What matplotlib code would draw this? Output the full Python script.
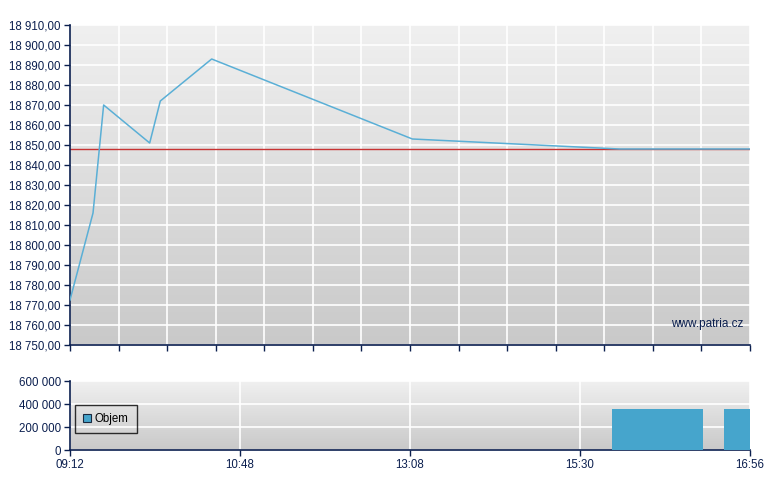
import numpy as np
import matplotlib
matplotlib.use("Agg")
import matplotlib.pyplot as plt
from matplotlib.colors import LinearSegmentedColormap
from matplotlib.patches import Patch

plt.rcParams['font.family'] = ['Liberation Sans', 'DejaVu Sans']

# ---- data ----
tick_times = ["09:12", "10:48", "13:08", "15:30", "16:56"]
price_times = ["09:12", "09:25", "09:31", "09:57", "10:03", "10:32", "13:10", "15:50", "16:56"]
price_values = [18772.5, 18816, 18870, 18851, 18872, 18893, 18853, 18848, 18848]
reference_price = 18848
volume_start = ["15:46", "16:43"]
volume_end = ["16:32", "16:56"]
volume_values = [360000, 360000]
price_ticks = list(range(18750, 18911, 10))
volume_ticks = [0, 200000, 400000, 600000]

def to_min(t):
    h, m = t.split(":")
    return int(h) * 60 + int(m)

tick_min = np.array([to_min(t) for t in tick_times])
tick_pos = np.linspace(0, 1, len(tick_times))

def pos(ts):
    return np.interp([to_min(t) for t in ts], tick_min, tick_pos)

navy = "#0b1f4f"
fig = plt.figure(figsize=(7.8, 4.9), dpi=100)
ax1 = fig.add_axes([70/780, 1-345/490, 680/780, 320/490])
ax2 = fig.add_axes([70/780, 1-450/490, 680/780, 69/490])

cmap = LinearSegmentedColormap.from_list("g", ["#c9c9c9", "#f0f0f0"])
grad = np.linspace(0, 1, 256).reshape(-1, 1)
for ax in (ax1, ax2):
    ax.imshow(grad, extent=[0, 1, 0, 1], transform=ax.transAxes, aspect='auto',
              cmap=cmap, origin='lower', zorder=0)
    ax.set_axisbelow(True)
    for s in ("top", "right"):
        ax.spines[s].set_visible(False)
    for s in ("left", "bottom"):
        ax.spines[s].set_color(navy)
        ax.spines[s].set_linewidth(1.2)
    ax.tick_params(colors=navy, labelcolor=navy, labelsize=8.3, width=1, length=4, pad=2.5)
    ax.set_xlim(0, 1)

# price panel
ax1.axhline(reference_price, color="#c83232", lw=1.0, zorder=2)
ax1.plot(pos(price_times), price_values, color="#5aafd6", lw=1.1, zorder=3)
ax1.set_ylim(18750, 18910)
ax1.set_yticks(price_ticks)
ax1.set_yticklabels([f"{v // 1000} {v % 1000:03d},00" for v in price_ticks])
ax1.set_xticks(np.linspace(0, 1, 15))
ax1.set_xticklabels([])
ax1.grid(True, color="white", lw=1.2)
ax1.text(0.99, 0.065, "www.patria.cz", transform=ax1.transAxes, ha="right", va="center",
         color=navy, fontsize=8.5)

# volume panel
vs = pos(volume_start)
ve = pos(volume_end)
ax2.bar(vs, volume_values, width=ve - vs, align="edge", color="#46a5cc", zorder=3)
ax2.set_ylim(0, 600000)
ax2.set_yticks(volume_ticks)
ax2.set_yticklabels([f"{v // 1000} 000" if v else "0" for v in volume_ticks])
ax2.set_xticks(tick_pos)
ax2.set_xticklabels(tick_times)
ax2.grid(True, color="white", lw=1.2)
leg = ax2.legend(handles=[Patch(facecolor="#46a5cc", edgecolor="#1a2a40", lw=0.8, label="Objem")],
                 loc="center left", bbox_to_anchor=(0.007, 0.45), fontsize=8.3, frameon=True,
                 fancybox=False, handlelength=0.75, handleheight=0.75, handletextpad=0.3,
                 borderpad=0.7, borderaxespad=0.0)
leg.get_frame().set_edgecolor("black")
leg.get_frame().set_facecolor("none")
leg.get_frame().set_linewidth(1.0)
for t in leg.get_texts():
    t.set_color("black")

fig.savefig("out.png", dpi=100)
